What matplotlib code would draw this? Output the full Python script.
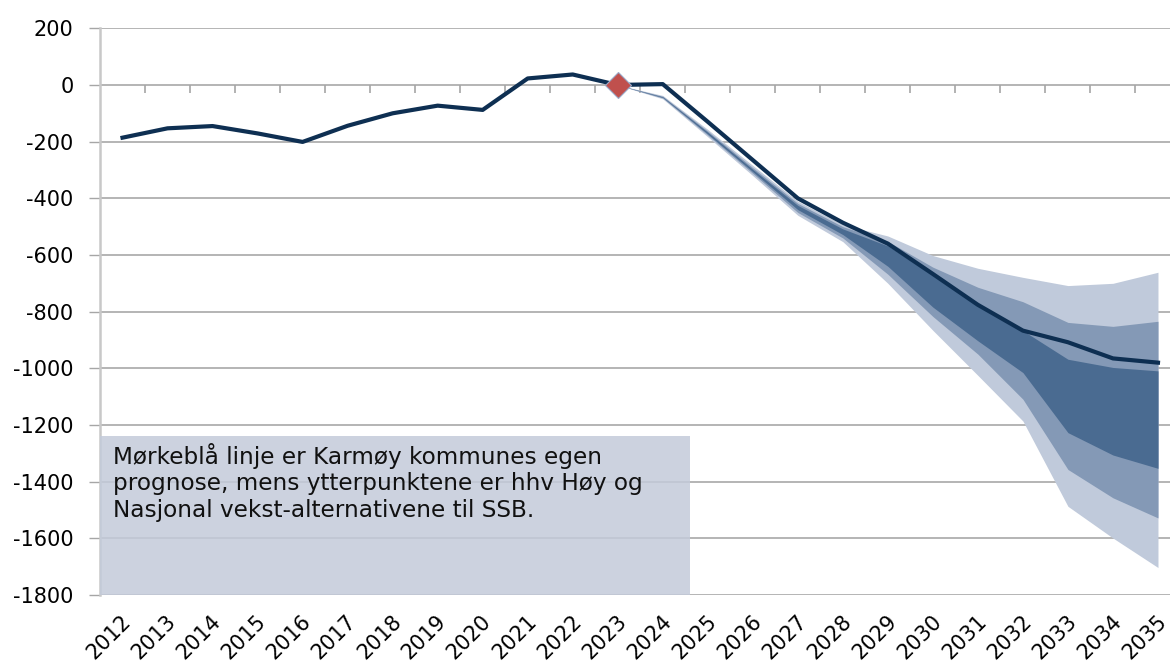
import numpy as np
import matplotlib
matplotlib.use("Agg")
import matplotlib.pyplot as plt
from matplotlib.patches import Rectangle

# Data
years = [str(y) for y in range(2012, 2036)]
karmoy = [-186, -153, -145, -171, -201, -144, -100, -73, -88, 23, 37, 0,
          3, -130, -265, -400, -486, -560, -667, -776, -867, -908, -965, -980]

# fan (SSB alternatives) from 2023 to 2035
fan_years = years[11:]
light_top = [0, -37, -157, -284, -410, -493, -533, -602, -647, -679, -708, -700, -661]
mid_top = [0, -40, -163, -292, -418, -500, -552, -643, -714, -765, -838, -852, -834]
dark_top = [0, -42, -167, -298, -425, -508, -568, -670, -778, -867, -968, -997, -1009]
dark_bot = [0, -44, -173, -306, -440, -528, -640, -784, -903, -1015, -1227, -1306, -1353]
mid_bot = [0, -46, -177, -312, -450, -540, -668, -817, -950, -1109, -1357, -1457, -1528]
light_bot = [0, -49, -183, -320, -460, -553, -700, -866, -1025, -1186, -1487, -1599, -1703]

yticks = list(range(-1800, 201, 200))
note = ("Mørkeblå linje er Karmøy kommunes egen\n"
        "prognose, mens ytterpunktene er hhv Høy og\n"
        "Nasjonal vekst-alternativene til SSB.")

plt.rcParams['font.family'] = ['DejaVu Sans']

fig = plt.figure(figsize=(11.7, 6.64), dpi=100)
ax = fig.add_axes([100 / 1170, 1 - 595 / 664, 1080.5 / 1170, (595 - 28.3) / 664])

x = np.arange(len(years))
fx = np.arange(len(years) - len(fan_years), len(years))

ax.fill_between(fx, light_top, light_bot, color='#c0cadb', lw=0, zorder=2)
ax.fill_between(fx, mid_top, mid_bot, color='#8499b6', lw=0, zorder=3)
ax.fill_between(fx, dark_top, dark_bot, color='#4a6b91', lw=0, zorder=4)

ax.plot(x, karmoy, color='#0e2f52', lw=3, zorder=6, solid_joinstyle='round')
i23 = years.index('2023')
ax.plot([x[i23]], [karmoy[i23]], marker='D', ms=13, color='#c0504d',
        mec='#9aaac8', mew=0.8, zorder=7)

# note box
ax.add_patch(Rectangle((-0.5, -1800), 13.1, 560, facecolor='#c3cbda', alpha=0.85,
                       edgecolor='none', zorder=5))
ax.text(-0.22, -1262, note, fontsize=16.7, va='top', ha='left', color='#111111',
        linespacing=1.2, zorder=8)

ax.set_xlim(-0.5, len(years) - 0.5)
ax.set_ylim(-1800, 200)
ax.set_yticks(yticks)
ax.set_yticklabels([str(v) for v in yticks], fontsize=15)
ax.tick_params(axis='y', length=8, width=1, color='#a6a6a6', pad=11)
ax.yaxis.grid(True, color='#a0a0a0', lw=1.1, zorder=1)
ax.set_axisbelow(True)

# category ticks hang from the zero line
ax.set_xticks([])
ax.vlines(x[:-1] + 0.5, -30, 0, color='#a6a6a6', lw=1.2, zorder=1)

for i, yr in enumerate(years):
    ax.annotate(yr, xy=(x[i], 0), xycoords=('data', 'axes fraction'),
                xytext=(4, -17), textcoords='offset points', rotation=45,
                ha='right', va='center', rotation_mode='anchor', fontsize=15)

for s in ['top', 'right', 'bottom']:
    ax.spines[s].set_visible(False)
ax.spines['left'].set_color('#c8c8c8')
ax.spines['left'].set_linewidth(1.8)

fig.savefig('out.png', dpi=100)
